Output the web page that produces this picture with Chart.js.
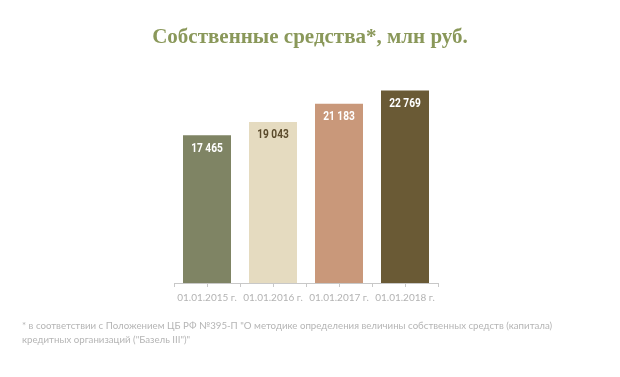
<!DOCTYPE html>
<html>
<head>
<meta charset="utf-8">
<script src="https://cdn.jsdelivr.net/npm/chart.js@4"></script>
<style>
  html, body { margin: 0; padding: 0; background: #fff; }
  #wrap { width: 620px; height: 377px; position: relative; }
</style>
</head>
<body>
<div id="wrap"><canvas id="capitalChart"></canvas></div>
<script>
  'use strict'

  var chartTitle = 'Собственные средства*, млн руб.'
  var footnoteLines = [
    '* в соответствии с Положением ЦБ РФ №395-П "О методике определения величины собственных средств (капитала)',
    'кредитных организаций ("Базель III")"'
  ]
  var categories = ['01.01.2015 г.', '01.01.2016 г.', '01.01.2017 г.', '01.01.2018 г.']
  var capitalValues = [17465, 19043, 21183, 22769]
  var barColors = ['#7f8464', '#e5dbc0', '#c9987a', '#6a5a35']
  var labelColors = ['#ffffff', '#5b4b2c', '#ffffff', '#ffffff']

  // "17 465" style number with space as thousands separator
  function fmt(v) {
    return String(v).replace(/\B(?=(\d{3})+(?!\d))/g, ' ')
  }

  // title, footnote, in-bar labels and the small ticks under each bar
  var extrasPlugin = {
    id: 'extras',
    afterDatasetsDraw: function (chart) {
      var ctx = chart.ctx
      var meta = chart.getDatasetMeta(0)
      ctx.save()
      ctx.textAlign = 'center'
      ctx.textBaseline = 'middle'
      ctx.font = 'bold 13px Roboto, sans-serif'
      meta.data.forEach(function (bar, i) {
        // squeeze horizontally to mimic the narrow font of the original
        ctx.save()
        ctx.translate(bar.x, bar.y + 13)
        ctx.scale(0.78, 1)
        ctx.fillStyle = labelColors[i]
        ctx.fillText(fmt(capitalValues[i]), 0, 0)
        ctx.restore()
      })

      var bottom = chart.chartArea.bottom
      ctx.strokeStyle = '#c8c8c8'
      ctx.lineWidth = 1
      meta.data.forEach(function (bar) {
        var px = Math.round(bar.x) + 0.5
        ctx.beginPath()
        ctx.moveTo(px, bottom)
        ctx.lineTo(px, bottom + 4)
        ctx.stroke()
      })

      ctx.fillStyle = '#8a985a'
      ctx.font = 'bold 21px "Liberation Serif", "DejaVu Serif", serif'
      ctx.fillText(chartTitle, 310, 38)

      ctx.textAlign = 'left'
      ctx.fillStyle = '#b5b5b5'
      ctx.font = '9.7px Lato, "Open Sans", sans-serif'
      footnoteLines.forEach(function (line, i) {
        ctx.fillText(line, 22, 326 + i * 14)
      })
      ctx.restore()
    }
  }

  var ctx = document.getElementById('capitalChart').getContext('2d')
  var capitalChart = new Chart(ctx, {
    type: 'bar',
    data: {
      labels: categories,
      datasets: [{
        data: capitalValues,
        backgroundColor: barColors,
        borderWidth: 0,
        categoryPercentage: 1,
        barPercentage: 48 / 66
      }]
    },
    options: {
      responsive: true,
      maintainAspectRatio: false,
      animation: false,
      events: [],
      layout: { padding: { left: 174, right: 182, top: 80, bottom: 68 } },
      plugins: {
        legend: { display: false },
        tooltip: { enabled: false }
      },
      scales: {
        x: {
          border: { display: true, color: '#c8c8c8', width: 1 },
          grid: {
            display: true,
            offset: true,
            drawOnChartArea: false,
            drawTicks: true,
            tickLength: 4,
            color: '#c8c8c8'
          },
          ticks: {
            color: '#b3b3b3',
            font: { family: 'Lato, "Open Sans", sans-serif', size: 10 },
            padding: 5,
            maxRotation: 0
          }
        },
        y: {
          display: false,
          min: 0,
          max: 24000
        }
      }
    },
    plugins: [extrasPlugin]
  })
</script>
</body>
</html>
